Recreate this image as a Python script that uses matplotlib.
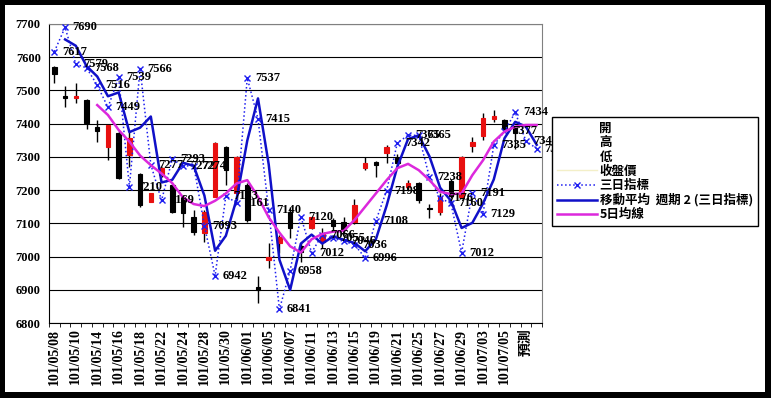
import numpy as np
import pandas as pd
import matplotlib
matplotlib.use('Agg')
import matplotlib.pyplot as plt
from matplotlib.lines import Line2D
from matplotlib.patches import Rectangle

plt.rcParams['font.family'] = ['Liberation Serif', 'Noto Sans CJK TC']
plt.rcParams['font.weight'] = 'bold'

# Datas (a última é a previsão)
datas = ['101/05/08', '101/05/09', '101/05/10', '101/05/11', '101/05/14', '101/05/15',
         '101/05/16', '101/05/17', '101/05/18', '101/05/21', '101/05/22', '101/05/23',
         '101/05/24', '101/05/25', '101/05/28', '101/05/29', '101/05/30', '101/05/31',
         '101/06/01', '101/06/04', '101/06/05', '101/06/06', '101/06/07', '101/06/08',
         '101/06/11', '101/06/12', '101/06/13', '101/06/14', '101/06/15', '101/06/18',
         '101/06/19', '101/06/20', '101/06/21', '101/06/22', '101/06/25', '101/06/26',
         '101/06/27', '101/06/28', '101/06/29', '101/07/02', '101/07/03', '101/07/04',
         '101/07/05', '101/07/06', '預測', '']

# Candles (開, 高, 低, 收盤價)
abertura = [7572, 7483, 7478, 7472, 7390, 7329, 7373, 7306, 7250, 7165, 7245, 7215, 7180,
            7120, 7070, 7180, 7331, 7190, 7215, 6908, 6990, 7040, 7135, 7033, 7085, 7045,
            7110, 7105, 7105, 7266, 7286, 7311, 7296, 7210, 7222, 7147, 7135, 7228, 7180,
            7333, 7363, 7414, 7410, 7386]
maxima = [7575, 7513, 7522, 7475, 7412, 7398, 7378, 7376, 7252, 7192, 7270, 7218, 7185,
          7140, 7140, 7345, 7333, 7302, 7220, 6940, 7040, 7065, 7150, 7040, 7120, 7085,
          7115, 7118, 7172, 7300, 7288, 7336, 7308, 7230, 7225, 7157, 7190, 7232, 7302,
          7361, 7431, 7441, 7413, 7390]
minima = [7523, 7449, 7462, 7383, 7346, 7291, 7234, 7270, 7150, 7163, 7240, 7130, 7090,
          7065, 7045, 7178, 7215, 7170, 7105, 6860, 6965, 7010, 7055, 6985, 7083, 7027,
          7080, 7070, 7098, 7262, 7240, 7281, 7268, 7198, 7160, 7115, 7125, 7175, 7178,
          7316, 7351, 7406, 7375, 7325]
fecho = [7548, 7476, 7483, 7403, 7379, 7396, 7236, 7356, 7155, 7190, 7268, 7135, 7130,
         7075, 7135, 7341, 7260, 7300, 7110, 6900, 7000, 7058, 7085, 7015, 7118, 7070,
         7092, 7080, 7155, 7281, 7277, 7331, 7282, 7222, 7170, 7143, 7180, 7183, 7300,
         7346, 7416, 7423, 7385, 7372]

# 三日指標
tres_dias = [7617, 7690, 7579, 7568, 7516, 7449, 7539, 7210, 7566, 7277,
             7169, 7293, 7272, 7274, 7093, 6942, 7183, 7161, 7537, 7415,
             7140, 6841, 6958, 7120, 7012, 7066, 7055, 7046, 7036, 6996,
             7108, 7198, 7342, 7365, 7365, 7238, 7176, 7160, 7012, 7191,
             7129, 7335, 7377, 7434, 7348, 7325]

# 5日均線 (começa no 5º dia)
media5 = [7456, 7426, 7381, 7346, 7304, 7275, 7250, 7221, 7178, 7158, 7152, 7168, 7190,
          7220, 7230, 7180, 7118, 7072, 7031, 7012, 7052, 7068, 7075, 7077, 7110, 7150,
          7190, 7230, 7266, 7279, 7260, 7230, 7195, 7188, 7190, 7245, 7290, 7346, 7376,
          7391, 7396, 7396]

x = np.arange(len(datas))
media2 = pd.Series(tres_dias).rolling(2).mean()  # 移動平均 週期 2

fig = plt.figure(figsize=(7.71, 3.98), dpi=100, facecolor='black')
fundo = Rectangle((5 / 771, 6 / 398), 760 / 771, 387 / 398,
                  transform=fig.transFigure, facecolor='white', edgecolor='none')
fundo.set_zorder(-10)
fig.add_artist(fundo)
ax = fig.add_axes([49 / 771, 75 / 398, 493 / 771, 299 / 398])
ax.set_zorder(1)

# Candles
for i in range(len(fecho)):
    cor = '#E81010' if fecho[i] >= abertura[i] else 'black'
    ax.vlines(i, minima[i], maxima[i], color='black', lw=1, zorder=2)
    ax.bar(i, abs(fecho[i] - abertura[i]), bottom=min(fecho[i], abertura[i]),
           width=0.42, color=cor, edgecolor=cor, lw=0.8, zorder=3)

ax.plot(x, tres_dias, ls=':', color='#1E1EF0', lw=1.1, marker='x', ms=4.5, mew=1,
        label='三日指標', zorder=4)
ax.plot(x, media2, color='#1010C8', lw=1.8, label='移動平均  週期 2 (三日指標)', zorder=5)
ax.plot(x[4:4 + len(media5)], media5, color='#DC28DC', lw=1.8, label='5日均線', zorder=5)

for i, v in enumerate(tres_dias):
    ax.annotate(str(v), (i, v), xytext=(5.5, 0), textcoords='offset points',
                va='center', ha='left', fontsize=9, zorder=6, annotation_clip=False)

ax.set_xlim(-0.5, len(datas) - 0.5)
ax.set_ylim(6800, 7700)
ax.set_yticks(range(6800, 7701, 100))
ax.yaxis.grid(True, color='black', lw=0.8)
ax.set_axisbelow(True)
ax.tick_params(axis='y', length=0, pad=6, labelsize=9)

ax.set_xticks(x[::2])
ax.set_xticklabels(datas[::2], rotation=90, fontsize=10)
ax.set_xticks(np.arange(len(datas) + 1) - 0.5, minor=True)
ax.tick_params(axis='x', which='major', length=0, pad=4)
ax.tick_params(axis='x', which='minor', length=3, direction='out')

for lado in ['top', 'right']:
    ax.spines[lado].set_color('#808080')

# Legenda
itens = [Line2D([], [], color='none', label='開'),
         Line2D([], [], color='none', label='高'),
         Line2D([], [], color='none', label='低'),
         Line2D([], [], color='#F3EFC8', lw=1, label='收盤價')]
linhas, nomes = ax.get_legend_handles_labels()
leg = ax.legend(itens + linhas, [h.get_label() for h in itens] + nomes,
                loc='upper left', bbox_to_anchor=(552 / 771, 1 - 117 / 398),
                bbox_transform=fig.transFigure, borderaxespad=0, fancybox=False,
                edgecolor='black', framealpha=1, handlelength=3.2, handletextpad=0.2,
                labelspacing=0.1, borderpad=0.4,
                prop={'family': 'Noto Sans CJK TC', 'size': 9, 'weight': 'bold'})
leg.get_frame().set_linewidth(1)
leg.set_zorder(10)

fig.savefig('out.png', dpi=100, facecolor='black')
